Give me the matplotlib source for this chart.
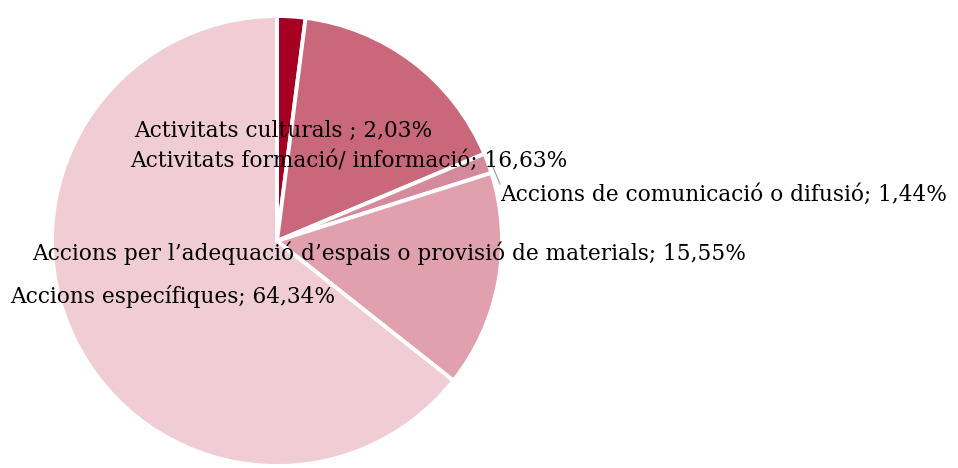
import numpy as np
import matplotlib.pyplot as plt

categories = [
    "Activitats culturals ",
    "Activitats formació/ informació",
    "Accions de comunicació o difusió",
    "Accions per l\u2019adequació d\u2019espais o provisió de materials",
    "Accions específiques",
]
values = [2.03, 16.63, 1.44, 15.55, 64.34]
colors = ["#A50021", "#C8687A", "#D48A9A", "#E0A0AE", "#F0CDD5"]

# label anchor points in pixel coords (left x, center y from top)
label_pos = [(134, 131), (130, 161), (500, 195), (32, 253), (10, 296)]

W, H = 958, 468
fig = plt.figure(figsize=(W / 100, H / 100), dpi=100)
ax = fig.add_axes([0, 0, 1, 1])

cx, cy, r = 277, H - 241, 225
wedges, _ = ax.pie(values, colors=colors, startangle=90, counterclock=False,
                   center=(cx, cy), radius=r, frame=True,
                   wedgeprops=dict(edgecolor="white", linewidth=2.8))
ax.set_xlim(0, W)
ax.set_ylim(0, H)
ax.axis("off")

# leader line for the small communication slice
ang = np.deg2rad(90 - (values[0] + values[1] + values[2] / 2) * 3.6)
x0, y0 = cx + (r + 3) * np.cos(ang), cy + (r + 3) * np.sin(ang)
ax.plot([x0, 500], [y0, H - 184], color="#999999", lw=0.8)

for cat, v, (x, y) in zip(categories, values, label_pos):
    txt = f"{cat}; {v:.2f}%".replace(".", ",")
    ax.text(x, H - y, txt, ha="left", va="center", fontsize=15.6,
            family="DejaVu Serif", color="black")

fig.savefig("out.png", dpi=100)
